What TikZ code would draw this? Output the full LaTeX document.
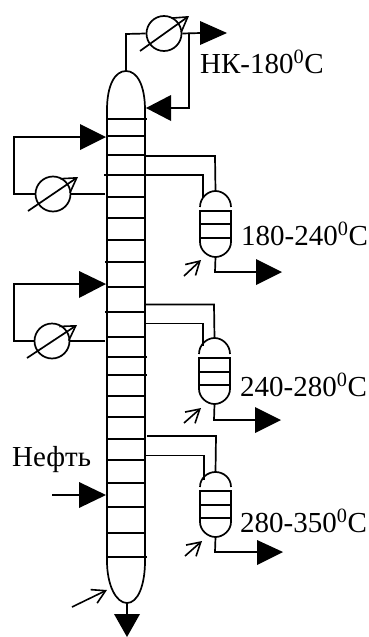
\documentclass[tikz,border=0pt]{standalone}
\usepackage{fontspec}
\setmainfont{Liberation Serif}
\usetikzlibrary{arrows.meta}
\tikzset{
  pipe/.style={line width=1.7pt,line join=miter},
  hx/.style={draw,circle,line width=1.7pt,minimum size=35pt,inner sep=0pt,fill=none},
  adj/.style={line width=1.7pt,-{Straight Barb[length=14pt,width=17pt,line width=1.6pt]}},
  smallarr/.style={line width=1.6pt,-{Straight Barb[length=13pt,width=15pt,line width=1.6pt]}},
  head/.style={fill=black,draw=none},
  lab/.style={anchor=base west,inner sep=0pt,font=\fontsize{29}{29}\selectfont},
}
\newcommand{\degz}{\textsuperscript{0}}
\newcommand{\stripper}[8]{% name, xl, xr, apex, domebase, tray1,tray2,tray3
  \pgfmathsetmacro{\xm}{(#2+#3)/2}
  \draw[pipe] (#2,#5) .. controls (#2,#5-9) and (\xm-8,#4) .. (\xm,#4) .. controls (\xm+8,#4) and (#3,#5-9) .. (#3,#5);
  \draw[pipe] (#2,#6) -- (#2,#8+4) .. controls (#2,#8+12) and (\xm-8,#8+19) .. (\xm,#8+19) coordinate (#1b) .. controls (\xm+8,#8+19) and (#3,#8+12) .. (#3,#8+4) -- (#3,#6);
  \draw[pipe] (#2-1,#6) -- (#3+1,#6) (#2-1,#7) -- (#3+1,#7) (#2-1,#8) -- (#3+1,#8);
  \coordinate (#1t) at (\xm,#4);
}
\begin{document}
\begin{tikzpicture}[x=1pt,y=-1pt]
\useasboundingbox (0,0) rectangle (369,637);
% column
\draw[pipe] (107,110) .. controls (107,85) and (115,71) .. (126,71) coordinate (top) .. controls (137,71) and (145,85) .. (145,110);
\draw[pipe] (107,110) -- (107,561) .. controls (107,585) and (116,603) .. (127,603) coordinate (bot) .. controls (138,603) and (145,585) .. (145,561) -- (145,110);
\foreach \y/\a/\b in {119/107/147,136/107/145,155/107/145,175/104/144,197/107/145,218/106/145,240/106/145,262/105/144,287/106/145,312/105/144,337/106/145,357/106/147,375/106/147,396/106/145,417/106/145,439/106/145,460/106/145,483/106/145,507/106/145,533/106/145,557/106/147}
  \draw[pipe] (\a,\y) -- (\b,\y);
% exchangers
\node[hx] (hxa) at (164,33.5) {};
\node[hx] (hxb) at (53,194) {};
\node[hx] (hxc) at (52,341) {};
\coordinate (asw) at (140,51); \coordinate (ane) at (189,16);
\coordinate (bsw) at (28,211); \coordinate (bne) at (78,177);
\coordinate (csw) at (27,358); \coordinate (cne) at (77,325);
\draw[adj] (asw) -- (ane);
\draw[adj] (bsw) -- (bne);
\draw[adj] (csw) -- (cne);
% top circuit
\coordinate (ac) at (126,34);
\coordinate (aout) at (201,33);
\coordinate (atee) at (189,33);
\coordinate (aret) at (189,108);
\coordinate (arin) at (170,108);
\draw[pipe] (top) -- (ac) -- (hxa.west);
\draw[pipe] (hxa.east) -- (aout);
\draw[pipe] (atee) -- (aret) -- (arin);
\fill[head] (200,21) -- (200,45) -- (227,33) -- cycle;
\fill[head] (171,95) -- (171,121) -- (146,108) -- cycle;
% left circuit 1
\coordinate (bl) at (14,194); \coordinate (blt) at (14,137); \coordinate (bin) at (81,137); \coordinate (bfrom) at (105,194);
\draw[pipe] (bfrom) -- (hxb.east);
\draw[pipe] (hxb.west) -- (bl) -- (blt) -- (bin);
\fill[head] (80,124) -- (80,150) -- (106,137) -- cycle;
% left circuit 2
\coordinate (cl) at (14,341); \coordinate (clt) at (14,284); \coordinate (cin) at (80,284); \coordinate (cfrom) at (105,341);
\draw[pipe] (cfrom) -- (hxc.east);
\draw[pipe] (hxc.west) -- (cl) -- (clt) -- (cin);
\fill[head] (79,271) -- (79,298) -- (106,284) -- cycle;
% strippers
\stripper{sa}{200}{231}{191}{207}{211}{224}{238}
\stripper{sb}{199}{230}{338}{354}{358}{372}{385}
\stripper{sc}{200}{231}{472}{487}{491}{505}{518}
% draws
\coordinate (sa1) at (146,156); \coordinate (sa1c) at (215,156);
\coordinate (sa2) at (146,175); \coordinate (sa2c) at (203,175); \coordinate (sa2e) at (203,198);
\draw[pipe] (sa1) -- (sa1c) -- (sat);
\draw[pipe] (sa2) -- (sa2c) -- (sa2e);
\coordinate (sac) at (215,272); \coordinate (sae) at (257,272);
\draw[pipe] (sab) -- (sac) -- (sae);
\fill[head] (256,259) -- (256,285) -- (282,272) -- cycle;
\coordinate (saas) at (184,276); \coordinate (saae) at (201,260);
\draw[smallarr] (saas) -- (saae);
%
\coordinate (sb1) at (146,304.5); \coordinate (sb1c) at (214,304.5);
\coordinate (sb2) at (146,323.5); \coordinate (sb2c) at (203,323.5); \coordinate (sb2e) at (203,346);
\draw[pipe] (sb1) -- (sb1c) -- (sbt);
\draw[pipe] (sb2) -- (sb2c) -- (sb2e);
\coordinate (sbc) at (214,420); \coordinate (sbe) at (256,420);
\draw[pipe] (sbb) -- (sbc) -- (sbe);
\fill[head] (255,407) -- (255,433) -- (281,420) -- cycle;
\coordinate (sbas) at (184,423); \coordinate (sbae) at (201,408);
\draw[smallarr] (sbas) -- (sbae);
%
\coordinate (sc1) at (147,436); \coordinate (sc1c) at (216,436);
\coordinate (sc2) at (146,455.5); \coordinate (sc2c) at (204,455.5); \coordinate (sc2e) at (204,480);
\draw[pipe] (sc1) -- (sc1c) -- (sct);
\draw[pipe] (sc2) -- (sc2c) -- (sc2e);
\coordinate (scc) at (215,552); \coordinate (sce) at (258,552);
\draw[pipe] (scb) -- (scc) -- (sce);
\fill[head] (257,540) -- (257,565) -- (283,552) -- cycle;
\coordinate (scas) at (185,556); \coordinate (scae) at (202,541);
\draw[smallarr] (scas) -- (scae);
% feed
\coordinate (feeds) at (52,495); \coordinate (feede) at (80,495);
\draw[pipe] (feeds) -- (feede);
\fill[head] (79,482) -- (79,508) -- (106,495) -- cycle;
% bottom
\coordinate (botout) at (127,615);
\draw[pipe] (bot) -- (botout);
\fill[head] (114,614) -- (140,614) -- (127,637) -- cycle;
\coordinate (heats) at (72,607); \coordinate (heate) at (107,590);
\draw[smallarr] (heats) -- (heate);
% labels
\node[lab] (l0) at (200,73) {НК-180\degz С};
\node[lab] (l1) at (241,245) {180-240\degz С};
\node[lab] (l2) at (240,396) {240-280\degz С};
\node[lab] (l3) at (240,532) {280-350\degz С};
\node[lab] (l4) at (12,466.5) {Нефть};
\end{tikzpicture}
\end{document}
